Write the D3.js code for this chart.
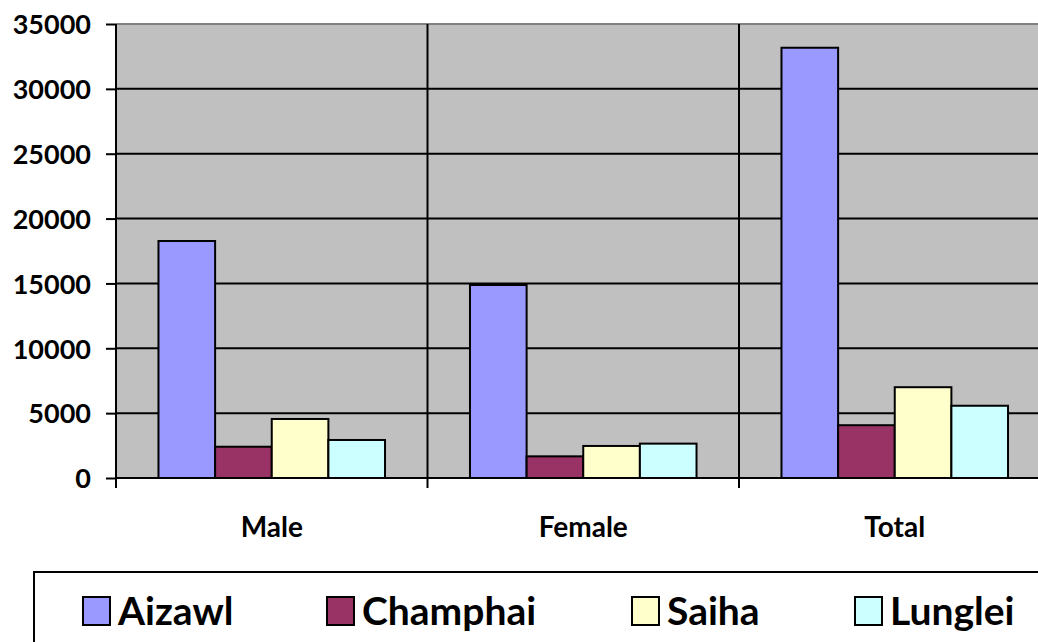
<!DOCTYPE html>
<html>
<head>
<meta charset="utf-8">
<script src="https://cdn.jsdelivr.net/npm/d3@7"></script>
<style>
  html, body { margin: 0; padding: 0; background: #fff; overflow: hidden; }
  text { font-family: Lato, "Open Sans", sans-serif; font-weight: bold; fill: #000; }
</style>
</head>
<body>
<script>
// data
const categorias = ['Male', 'Female', 'Total']
const distritos = ['Aizawl', 'Champhai', 'Saiha', 'Lunglei']
const aizawl = [18270, 14880, 33170]
const champhai = [2410, 1670, 4070]
const saiha = [4550, 2470, 7000]
const lunglei = [2930, 2650, 5570]
const ticksY = [0, 5000, 10000, 15000, 20000, 25000, 30000, 35000]

const cores = ['#9999ff', '#993366', '#ffffcc', '#ccffff']
const valores = [aizawl, champhai, saiha, lunglei]

const largura = 1038
const altura = 642
const area = {esquerda: 116, topo: 24, direita: 1050.5, base: 478}

var svg = d3.select('body').append('svg')
  .attr('width', largura)
  .attr('height', altura)

var escalaX = d3.scaleBand()
  .domain(categorias)
  .range([area.esquerda, area.direita])
  .paddingInner(0)

var escalaSerie = d3.scaleBand()
  .domain(distritos)
  .range([0, escalaX.bandwidth()])
  .paddingInner(0)
  .paddingOuter(0.75)

var escalaY = d3.scaleLinear()
  .domain([0, 35000])
  .range([area.base, area.topo])

// fundo do grafico
svg.append('rect')
  .attr('x', area.esquerda)
  .attr('y', area.topo)
  .attr('width', area.direita - area.esquerda)
  .attr('height', area.base - area.topo)
  .attr('fill', '#c0c0c0')

svg.append('line')
  .attr('x1', area.esquerda).attr('x2', area.direita)
  .attr('y1', escalaY(35000)).attr('y2', escalaY(35000))
  .attr('stroke', '#808080').attr('stroke-width', 2)

// linhas de grade
svg.append('g').selectAll('line')
  .data(ticksY.filter(d => d > 0 && d < 35000))
  .join('line')
    .attr('x1', area.esquerda).attr('x2', area.direita)
    .attr('y1', d => escalaY(d)).attr('y2', d => escalaY(d))
    .attr('stroke', '#000').attr('stroke-width', 2)

// separadores verticais das categorias
svg.append('g').selectAll('line')
  .data(categorias.slice(1))
  .join('line')
    .attr('x1', d => escalaX(d)).attr('x2', d => escalaX(d))
    .attr('y1', area.topo).attr('y2', area.base + 10)
    .attr('stroke', '#000').attr('stroke-width', 2)

// barras
var linhas = []
categorias.forEach(function (c, i) {
  distritos.forEach(function (d, j) {
    linhas.push({categoria: c, distrito: d, valor: valores[j][i], cor: cores[j]})
  })
})

svg.append('g').selectAll('rect')
  .data(linhas)
  .join('rect')
    .attr('x', d => escalaX(d.categoria) + escalaSerie(d.distrito))
    .attr('y', d => escalaY(d.valor))
    .attr('width', escalaSerie.bandwidth())
    .attr('height', d => escalaY(0) - escalaY(d.valor))
    .attr('fill', d => d.cor)
    .attr('stroke', '#000')
    .attr('stroke-width', 2)

// eixo esquerdo
var eixoEsquerda = d3.axisLeft(escalaY)
  .tickValues(ticksY)
  .tickSize(10)
  .tickPadding(15)
  .tickFormat(d3.format('d'))

var gEsq = svg.append('g')
  .attr('transform', 'translate(' + area.esquerda + ',0)')
  .call(eixoEsquerda)
gEsq.select('.domain').remove()
gEsq.selectAll('.tick line').attr('stroke', '#000').attr('stroke-width', 2)
gEsq.selectAll('.tick text').attr('font-size', 27).attr('dy', '0.36em')
gEsq.append('line')
  .attr('x1', 0).attr('x2', 0)
  .attr('y1', area.topo).attr('y2', area.base + 10)
  .attr('stroke', '#000').attr('stroke-width', 2)

// eixo de base
var gBase = svg.append('g')
  .attr('transform', 'translate(0,' + area.base + ')')
gBase.append('line')
  .attr('x1', area.esquerda).attr('x2', area.direita)
  .attr('stroke', '#000').attr('stroke-width', 2)
gBase.selectAll('text')
  .data(categorias)
  .join('text')
    .attr('x', d => escalaX(d) + escalaX.bandwidth() / 2)
    .attr('y', 59)
    .attr('text-anchor', 'middle')
    .attr('font-size', 28)
    .text(d => d)

// legenda
var legendaX = [83, 327, 632, 855]
var gLeg = svg.append('g')
gLeg.append('rect')
  .attr('x', 34).attr('y', 572)
  .attr('width', 1100).attr('height', 200)
  .attr('fill', '#fff')
  .attr('stroke', '#000').attr('stroke-width', 2)

var itens = gLeg.selectAll('g.item')
  .data(distritos)
  .join('g')
    .attr('class', 'item')
    .attr('transform', (d, i) => 'translate(' + legendaX[i] + ',597)')

itens.append('rect')
  .attr('width', 27).attr('height', 28)
  .attr('fill', (d, i) => cores[i])
  .attr('stroke', '#000').attr('stroke-width', 2)

itens.append('text')
  .attr('x', 35)
  .attr('y', 28)
  .attr('font-size', 39)
  .text(d => d)
</script>
</body>
</html>
